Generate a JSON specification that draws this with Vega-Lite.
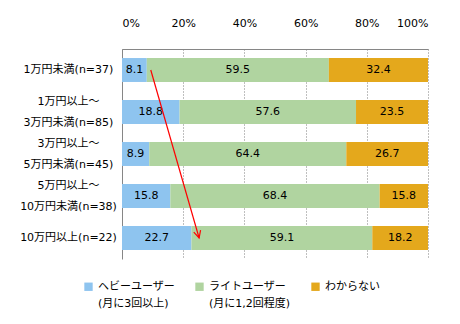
{
  "$schema": "https://vega.github.io/schema/vega-lite/v6.json",
  "width": 306,
  "height": 210,
  "autosize": "none",
  "padding": {"left": 122, "top": 49, "right": 32, "bottom": 65},
  "background": "white",
  "config": {
    "font": "DejaVu Sans, Noto Sans CJK JP",
    "view": {"stroke": null},
    "axis": {"labelFont": "DejaVu Sans, Noto Sans CJK JP", "labelFontSize": 11, "labelColor": "#000000"},
    "legend": {"labelFont": "DejaVu Sans, Noto Sans CJK JP"}
  },
  "datasets": {
    "bars": [
      {"category": "1万円未満(n=37)", "series": "ヘビーユーザー", "value": 8.1},
      {"category": "1万円未満(n=37)", "series": "ライトユーザー", "value": 59.5},
      {"category": "1万円未満(n=37)", "series": "わからない", "value": 32.4},
      {"category": "1万円以上～\n3万円未満(n=85)", "series": "ヘビーユーザー", "value": 18.8},
      {"category": "1万円以上～\n3万円未満(n=85)", "series": "ライトユーザー", "value": 57.6},
      {"category": "1万円以上～\n3万円未満(n=85)", "series": "わからない", "value": 23.5},
      {"category": "3万円以上～\n5万円未満(n=45)", "series": "ヘビーユーザー", "value": 8.9},
      {"category": "3万円以上～\n5万円未満(n=45)", "series": "ライトユーザー", "value": 64.4},
      {"category": "3万円以上～\n5万円未満(n=45)", "series": "わからない", "value": 26.7},
      {"category": "5万円以上～\n10万円未満(n=38)", "series": "ヘビーユーザー", "value": 15.8},
      {"category": "5万円以上～\n10万円未満(n=38)", "series": "ライトユーザー", "value": 68.4},
      {"category": "5万円以上～\n10万円未満(n=38)", "series": "わからない", "value": 15.8},
      {"category": "10万円以上(n=22)", "series": "ヘビーユーザー", "value": 22.7},
      {"category": "10万円以上(n=22)", "series": "ライトユーザー", "value": 59.1},
      {"category": "10万円以上(n=22)", "series": "わからない", "value": 18.2}
    ],
    "arrow": [
      {"category": "1万円未満(n=37)", "category2": "10万円以上(n=22)", "x": 0.094, "x2": 0.252}
    ]
  },
  "layer": [
    {
      "data": {"name": "bars"},
      "transform": [
        {"calculate": "indexof(['ヘビーユーザー','ライトユーザー','わからない'], datum.series)", "as": "sk"},
        {"stack": "value", "groupby": ["category"], "sort": [{"field": "sk", "order": "ascending"}], "offset": "normalize", "as": ["v0", "v1"]}
      ],
      "mark": {"type": "bar"},
      "encoding": {
        "y": {
          "field": "category", "type": "nominal",
          "scale": {"domain": ["1万円未満(n=37)", "1万円以上～\n3万円未満(n=85)", "3万円以上～\n5万円未満(n=45)", "5万円以上～\n10万円未満(n=38)", "10万円以上(n=22)"], "paddingInner": 0.43, "paddingOuter": 0.215},
          "axis": {
            "title": null, "orient": "left", "ticks": false, "domain": true, "domainColor": "#868686",
            "labelExpr": "split(datum.label, '\\n')", "labelAlign": "center", "labelPadding": 54,
            "labelLineHeight": 21, "labelBaseline": "middle", "grid": false,
            "labelOffset": {"condition": {"test": "indexof(datum.value, '\\n') >= 0", "value": -10.5}, "value": 0}
          }
        },
        "x": {
          "field": "v0", "type": "quantitative",
          "scale": {"domain": [0, 1]},
          "axis": {
            "title": null, "orient": "top", "values": [0, 0.2, 0.4, 0.6, 0.8, 1], "format": ".0%",
            "ticks": false, "labelPadding": 21, "domain": true, "domainColor": "#868686",
            "grid": true, "gridDash": [1, 2], "gridColor": "#7f7f7f", "gridWidth": 1
          }
        },
        "x2": {"field": "v1"},
        "color": {
          "field": "series", "type": "nominal",
          "scale": {"domain": ["ヘビーユーザー", "ライトユーザー", "わからない"], "range": ["#8EC4EF", "#B0D4A0", "#E4A81C"]},
          "legend": {
            "title": null, "orient": "none", "direction": "horizontal", "columns": 3,
            "legendX": -39, "legendY": 232, "symbolType": "square", "symbolSize": 70,
            "symbolStrokeWidth": 0, "labelFontSize": 11, "labelColor": "#000000",
            "columnPadding": 19, "labelOffset": 4, "labelBaseline": "middle",
            "encode": {"labels": {"update": {"lineHeight": {"value": 17}}}},
            "labelExpr": "datum.label == 'ヘビーユーザー' ? ['ヘビーユーザー', '(月に3回以上)'] : datum.label == 'ライトユーザー' ? ['ライトユーザー', '(月に1,2回程度)'] : [datum.label, '']"
          }
        }
      }
    },
    {
      "data": {"name": "bars"},
      "transform": [
        {"calculate": "indexof(['ヘビーユーザー','ライトユーザー','わからない'], datum.series)", "as": "sk"},
        {"stack": "value", "groupby": ["category"], "sort": [{"field": "sk", "order": "ascending"}], "offset": "normalize", "as": ["v0", "v1"]},
        {"calculate": "(datum.v0 + datum.v1) / 2", "as": "mid"}
      ],
      "mark": {"type": "text", "fontSize": 11, "color": "#000000", "baseline": "middle", "align": "center"},
      "encoding": {
        "y": {"field": "category", "type": "nominal"},
        "x": {"field": "mid", "type": "quantitative"},
        "text": {"field": "value", "type": "quantitative", "format": ".1f"}
      }
    },
    {
      "data": {"name": "arrow"},
      "mark": {"type": "rule", "color": "#FF0000", "strokeWidth": 1.2},
      "encoding": {
        "y": {"field": "category", "type": "nominal"},
        "y2": {"field": "category2"},
        "x": {"field": "x", "type": "quantitative"},
        "x2": {"field": "x2"}
      }
    },
    {
      "data": {"name": "arrow"},
      "mark": {"type": "point", "shape": "M -0.5 -1 L 0 0 L 0.5 -1", "filled": false, "color": "#FF0000", "strokeWidth": 1.2, "size": 200, "angle": -16, "opacity": 1},
      "encoding": {
        "y": {"field": "category2", "type": "nominal"},
        "x": {"field": "x2", "type": "quantitative"}
      }
    }
  ]
}
